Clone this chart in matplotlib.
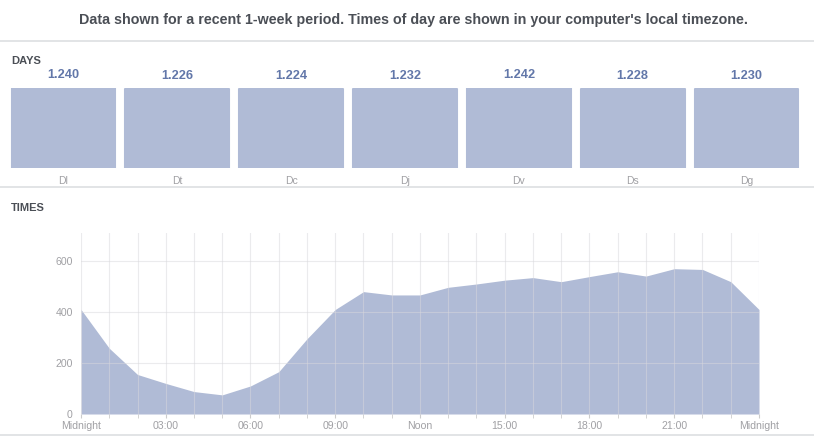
import numpy as np
import matplotlib
matplotlib.use("Agg")
import matplotlib.pyplot as plt
from matplotlib.lines import Line2D

plt.rcParams['font.family'] = ['Liberation Sans', 'DejaVu Sans']

# data
days = ['Dl', 'Dt', 'Dc', 'Dj', 'Dv', 'Ds', 'Dg']
day_counts = [1240, 1226, 1224, 1232, 1242, 1228, 1230]

hours = list(range(25))
hour_counts = [410, 258, 155, 120, 88, 75, 110, 166, 295, 410, 480, 467, 467,
               497, 510, 525, 535, 519, 539, 558, 541, 570, 567, 519, 410]
hour_ticks = [0, 3, 6, 9, 12, 15, 18, 21, 24]
hour_labels = ['Midnight', '03:00', '06:00', '09:00', 'Noon', '15:00', '18:00', '21:00', 'Midnight']

W, H = 814, 436
BAR = '#b0bbd6'
LABEL = '#a0a0a4'


def px_axes(fig, x0, y0, x1, y1):
    # axes from pixel box (top-left origin)
    return fig.add_axes([x0 / W, 1 - y1 / H, (x1 - x0) / W, (y1 - y0) / H])


fig = plt.figure(figsize=(W / 100, H / 100), dpi=100)

fig.text(413 / W, 1 - 20 / H,
         "Data shown for a recent 1-week period. Times of day are shown in your computer's local timezone.",
         ha='center', va='center', fontsize=10.3, fontweight='bold', color='#4b4f56')

for y in (41.5, 187.5, 434.5):
    fig.add_artist(Line2D([0, 1], [1 - y / H, 1 - y / H], color='#dddfe2', lw=1.2))

fig.text(11 / W, 1 - 61 / H, 'DAYS', ha='left', va='center', fontsize=8,
         fontweight='bold', color='#4b4f56')
fig.text(11 / W, 1 - 208 / H, 'TIMES', ha='left', va='center', fontsize=8,
         fontweight='bold', color='#4b4f56')

# days bars
ax1 = px_axes(fig, 6.5, 88, 803.5, 168)
x = np.arange(len(days))
ax1.bar(x, day_counts, width=0.91, color=BAR, edgecolor=BAR, lw=1.5,
        joinstyle='round')
ax1.set_xlim(-0.5, len(days) - 0.5)
ax1.set_ylim(0, max(day_counts))
for xi, v in zip(x, day_counts):
    ax1.annotate('{:,}'.format(v).replace(',', '.'), (xi, v), xytext=(0, 5),
                 textcoords='offset points', ha='center', va='bottom',
                 fontsize=9.2, fontweight='bold', color='#6277a9', annotation_clip=False)
ax1.set_xticks(x)
ax1.set_xticklabels(days, fontsize=7.5, color=LABEL)
ax1.tick_params(axis='x', length=0, pad=6)
ax1.set_yticks([])
for s in ax1.spines.values():
    s.set_visible(False)

# times area
ax2 = px_axes(fig, 81, 233, 759, 414)
ax2.fill_between(hours, hour_counts, 0, color=BAR, lw=0, zorder=1)
ax2.set_xlim(0, 24)
ax2.set_ylim(0, 710)
ax2.set_xticks(hours, minor=True)
ax2.set_xticks(hour_ticks)
ax2.set_xticklabels(hour_labels, fontsize=7.6, color=LABEL)
ax2.set_yticks([0, 200, 400, 600])
ax2.tick_params(axis='y', length=0, labelsize=7.6, labelcolor=LABEL, pad=6)
ax2.tick_params(axis='x', which='both', length=3, color='#cccccc', pad=2)
ax2.grid(True, which='both', axis='x', color='#d8d8dc', alpha=0.5, lw=0.8, zorder=2)
ax2.grid(True, axis='y', color='#d8d8dc', alpha=0.5, lw=0.8, zorder=2)
ax2.set_axisbelow(False)
for s in ax2.spines.values():
    s.set_visible(False)

fig.savefig('out.png', dpi=100)
